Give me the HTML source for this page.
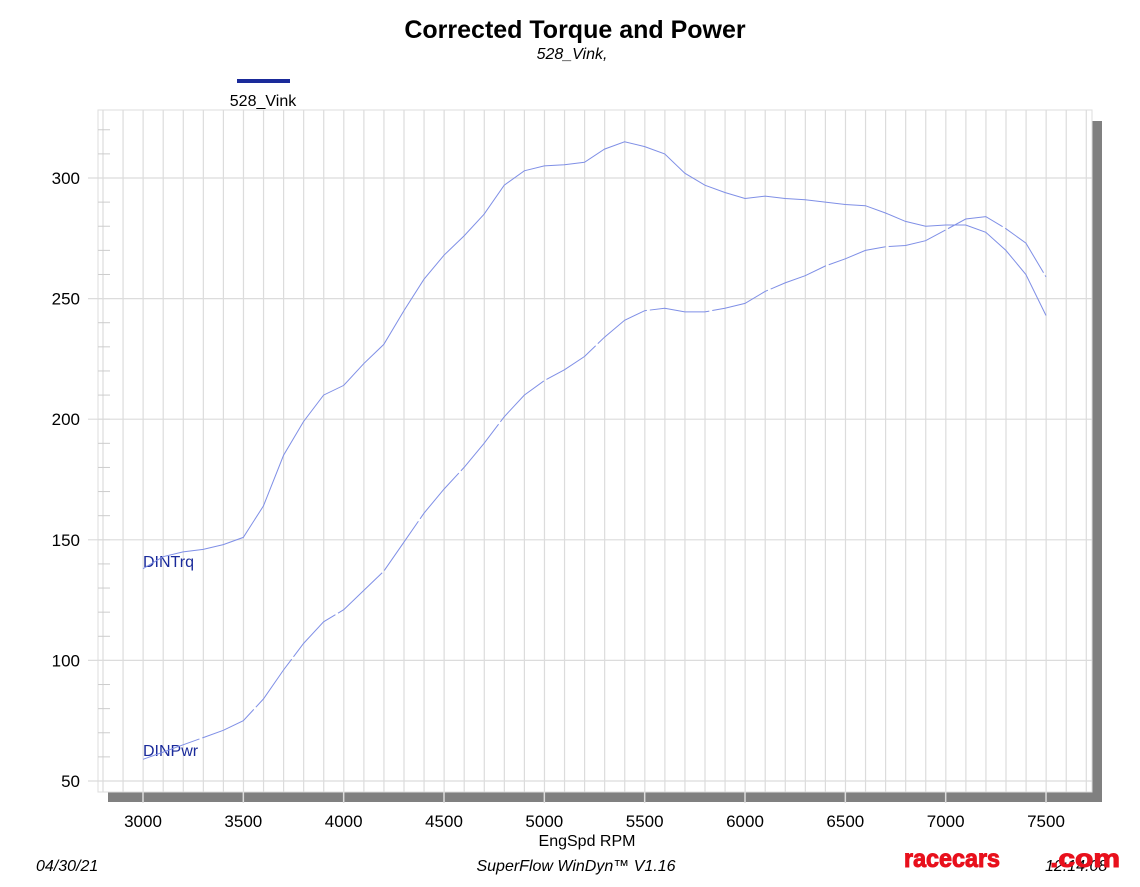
<!DOCTYPE html>
<html><head><meta charset="utf-8"><style>
body{margin:0;background:#fff;width:1140px;height:887px;overflow:hidden}
svg{display:block}
text{font-family:"Liberation Sans",Arial,sans-serif}
</style></head><body>
<svg id="s" width="1140" height="887" xmlns="http://www.w3.org/2000/svg">
<text x="575" y="38" text-anchor="middle" font-size="25" font-weight="bold" fill="#000">Corrected Torque and Power</text>
<text x="572" y="59" text-anchor="middle" font-size="16" font-style="italic" fill="#000">528_Vink,</text>
<rect x="237" y="79" width="53" height="4" fill="#1a2a9a"/>
<text x="263" y="106" text-anchor="middle" font-size="16" fill="#000">528_Vink</text>
<rect x="108" y="121" width="994" height="681" fill="#808080"/>
<rect x="98" y="110" width="994" height="682" fill="#fff" stroke="#ddd"/>
<g id="grid"></g>
<g id="lbl"></g>
<text x="143" y="567" font-size="16" fill="#1a2a9a">DINTrq</text>
<text x="143" y="756" font-size="16" fill="#1a2a9a">DINPwr</text>
<text x="587" y="846" text-anchor="middle" font-size="16" fill="#000">EngSpd  RPM</text>
<text x="36" y="871" font-size="16" font-style="italic" fill="#000">04/30/21</text>
<text x="576" y="871" text-anchor="middle" font-size="16" font-style="italic" fill="#000">SuperFlow WinDyn™ V1.16</text>
<text x="1045" y="871" font-size="16" font-style="italic" fill="#000">12:14:08</text>
<text x="904" y="867" font-size="25" font-weight="bold" fill="#e8101c" stroke="#e8101c" stroke-width="1" textLength="96" lengthAdjust="spacingAndGlyphs">racecars</text>
<text x="1050" y="867" font-size="25" font-weight="bold" fill="#e8101c" stroke="#e8101c" stroke-width="1" textLength="70" lengthAdjust="spacingAndGlyphs">.com</text>
<polyline id="tq" fill="none" stroke="#7f8fe6" stroke-width="1"/>
<polyline id="pw" fill="none" stroke="#7f8fe6" stroke-width="1" stroke-dasharray="60 3"/>
</svg>
<script>
var NS="http://www.w3.org/2000/svg";
function X(r){return 143+(r-3000)*0.20067}
function Y(v){return 178+(300-v)*2.412}
var g=document.getElementById('grid'),l=document.getElementById('lbl');
function el(p,t,a){var e=document.createElementNS(NS,t);for(var k in a)e.setAttribute(k,a[k]);p.appendChild(e);return e}
for(var x=103;x<1092;x+=20.067){el(g,'line',{x1:x,x2:x,y1:110,y2:792,stroke:'#dcdcdc','stroke-width':1.2})}
for(var v=50;v<=325;v+=10){var y=Y(v);if(y<112)continue;el(g,'line',{x1:98,x2:110,y1:y,y2:y,stroke:'#ccc'})}
for(var v=50;v<=300;v+=50){var y=Y(v);el(g,'line',{x1:88,x2:1092,y1:y,y2:y,stroke:'#dcdcdc','stroke-width':1.2});
 var t=el(l,'text',{x:80,y:y+6,'text-anchor':'end','font-size':17,fill:'#000'});t.textContent=v;}
for(var r=3000;r<=7500;r+=500){var x=X(r);el(g,'line',{x1:x,x2:x,y1:792,y2:803,stroke:'#ddd','stroke-width':1.5});
 var t=el(l,'text',{x:x,y:827,'text-anchor':'middle','font-size':17,fill:'#000'});t.textContent=r;}
var tq=[138,143,145,146,148,151,164,185,199,210,214,223,231,245,258,268,276,285,297,303,305,305.5,306.5,312,315,313,310,302,297,294,291.5,292.5,291.5,291,290,289,288.5,285.5,282,280,280.5,280.5,277.5,270,260,243];
var pw=[59,62,65,68,71,75,84,96,107,116,121,129,137,149,161,171,180,190,201,210,216,220.5,226,234,241,245,246,244.5,244.5,246,248,253,256.5,259.5,263.5,266.5,270,271.5,272,274,278.5,283,284,279,273,259];
function pts(a){return a.map(function(v,i){return X(3000+i*100).toFixed(1)+','+Y(v).toFixed(1)}).join(' ')}
document.getElementById('tq').setAttribute('points',pts(tq));
document.getElementById('pw').setAttribute('points',pts(pw));
</script>
</body></html>
